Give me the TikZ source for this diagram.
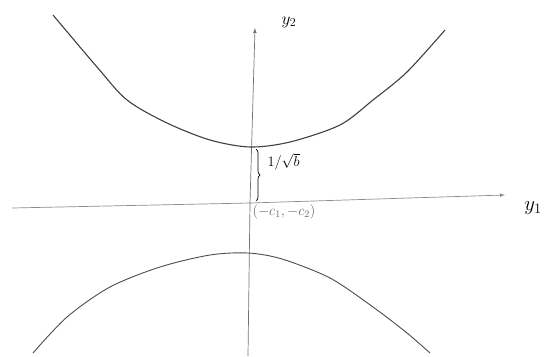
\documentclass[tikz,border=0pt]{standalone}
\usepackage{amsmath}
\usetikzlibrary{arrows}
\usetikzlibrary{decorations.pathreplacing}

\begin{document}
\begin{tikzpicture}[x=1pt,y=-1pt]
\useasboundingbox (0,0) rectangle (559,356);
% axes
\coordinate (west) at (12,208);
\coordinate (east) at (505,195);
\coordinate (south) at (248,356);
\coordinate (north) at (255,28);
\coordinate (origin) at (250,203);
\draw[-latex, line width=0.7, color=black!45] (west) -- (origin) -- (east);
\draw[-latex, line width=0.7, color=black!55] (south) -- (origin) -- (north);
\node[font=\LARGE] (ylab2) at (289,22) {$y_2$};
\node[font=\huge] (ylab1) at (533,208) {$y_1$};
\node[font=\Large, color=black!60, anchor=west] (centre) at (249,212) {$(-c_1,-c_2)$};
% upper branch
\draw[line width=1.1, color=black!75] plot[smooth] coordinates {(53,15) (97,67) (127,100) (167,123) (210,140) (250,147) (290,142) (340,125) (373,100) (407,72) (445,30)};
% lower branch
\draw[line width=0.9, color=black!70] plot[smooth] coordinates {(33,353) (67,317) (110,287) (160,267) (210,255) (248,253) (282,259) (330,278) (373,307) (407,333) (430,353)};
% vertex distance
\coordinate (vtop) at (256,149);
\coordinate (vbot) at (256,201);
\draw[line width=0.7, decorate, decoration={brace, amplitude=4pt, mirror, raise=0pt}] (vbot) -- (vtop);
\node[font=\Large, anchor=west] (dist) at (264,162) {$1/\sqrt{b}$};
\end{tikzpicture}
\end{document}
